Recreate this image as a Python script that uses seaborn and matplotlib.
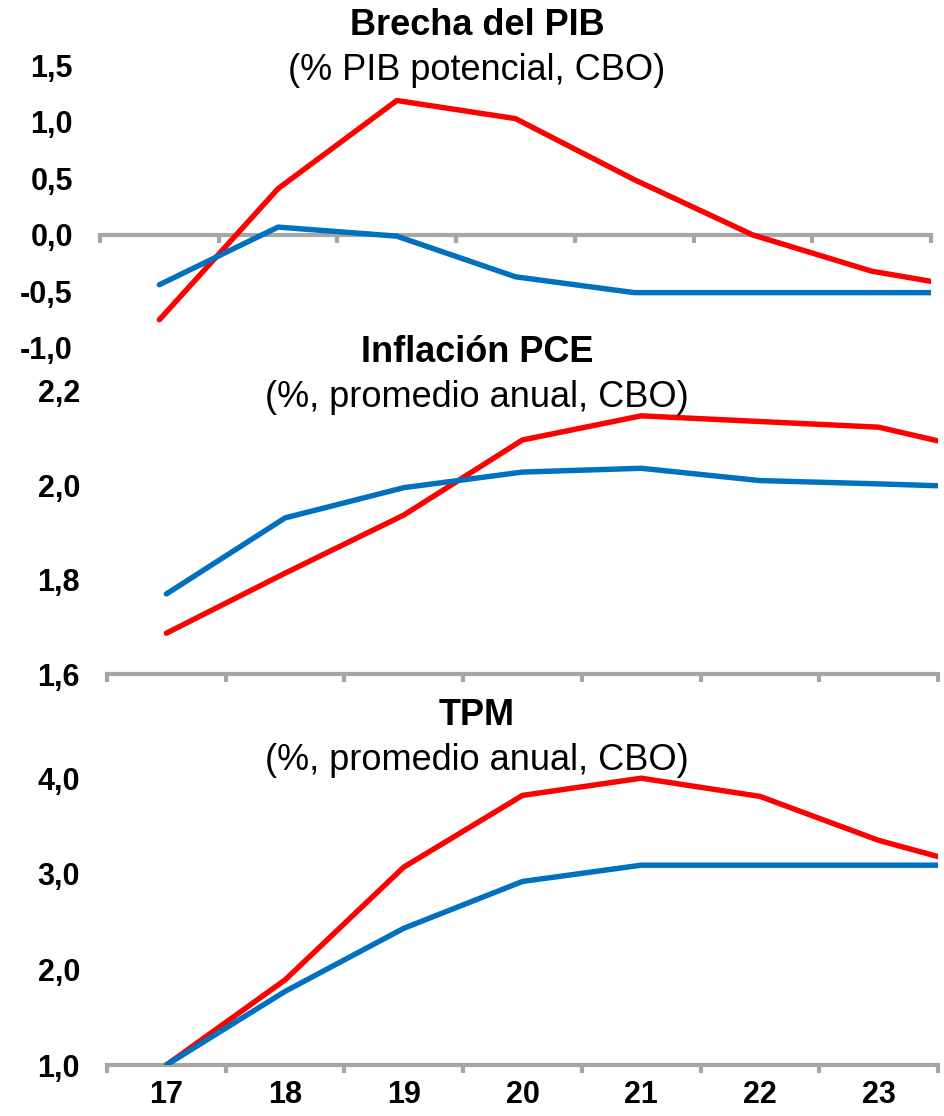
import matplotlib
matplotlib.use("Agg")
import matplotlib.pyplot as plt
import matplotlib.ticker as mticker
import numpy as np
import pandas as pd
import seaborn as sns

# ---------------- data ----------------
years = [17, 18, 19, 20, 21, 22, 23, 24]
year_labels = ["17", "18", "19", "20", "21", "22", "23"]
series_names = ["Escenario rojo", "Escenario azul"]

brecha_red = [-0.75, 0.41, 1.19, 1.03, 0.49, 0.00, -0.32, -0.50]
brecha_blue = [-0.44, 0.07, -0.01, -0.37, -0.51, -0.51, -0.51, -0.51]

pce_red = [1.687, 1.814, 1.937, 2.096, 2.147, 2.135, 2.123, 2.065]
pce_blue = [1.770, 1.931, 1.995, 2.028, 2.036, 2.010, 2.003, 1.995]

tpm_red = [1.00, 1.89, 3.07, 3.82, 4.00, 3.81, 3.35, 3.01]
tpm_blue = [1.00, 1.77, 2.43, 2.92, 3.09, 3.09, 3.09, 3.09]

titles = ["Brecha del PIB", "Inflación PCE", "TPM"]
subtitles = ["(% PIB potencial, CBO)", "(%, promedio anual, CBO)", "(%, promedio anual, CBO)"]

brecha_ticks = [-1.0, -0.5, 0.0, 0.5, 1.0, 1.5]
pce_ticks = [1.6, 1.8, 2.0, 2.2]
tpm_ticks = [1.0, 2.0, 3.0, 4.0]

# ---------------- style ----------------
sns.set_style("white")
plt.rcParams["font.family"] = ["Liberation Sans", "DejaVu Sans"]
plt.rcParams["text.color"] = "black"
plt.rcParams["xtick.color"] = "black"
plt.rcParams["ytick.color"] = "black"
plt.rcParams["axes.labelcolor"] = "black"

RED = "#FF0000"
BLUE = "#0070C0"
GRAY = "#A6A6A6"
W, H = 945, 1116

fig = plt.figure(figsize=(W / 100, H / 100), dpi=100)


def px_axes(left, right, top, bottom):
    return fig.add_axes([left / W, 1 - bottom / H, (right - left) / W, (bottom - top) / H])


def long_df(red, blue):
    return pd.DataFrame({
        "year": years * 2,
        "value": list(red) + list(blue),
        "serie": [series_names[0]] * len(years) + [series_names[1]] * len(years),
    })


fmt = mticker.FuncFormatter(lambda v, p: f"{v:.1f}".replace(".", ","))

panels = [
    dict(red=brecha_red, blue=brecha_blue, ylim=(-1.0, 1.5), ticks=brecha_ticks,
         box=(100, 931, 65.5, 348), spine=0.0, xlabels=False),
    dict(red=pce_red, blue=pce_blue, ylim=(1.6, 2.2), ticks=pce_ticks,
         box=(107, 938, 390.8, 674.3), spine=None, xlabels=False),
    dict(red=tpm_red, blue=tpm_blue, ylim=(1.0, 4.5), ticks=tpm_ticks,
         box=(107, 938, 730.4, 1065), spine=None, xlabels=True),
]

for p in panels:
    ax = px_axes(*p["box"])
    df = long_df(p["red"], p["blue"])
    sns.lineplot(data=df, x="year", y="value", hue="serie",
                 palette={series_names[0]: RED, series_names[1]: BLUE},
                 hue_order=series_names, linewidth=3.9, legend=False, ax=ax,
                 solid_capstyle="round", solid_joinstyle="round", zorder=3)
    ax.set_xlim(16.5, 23.5)
    ax.set_ylim(*p["ylim"])
    ax.set_xlabel("")
    ax.set_ylabel("")
    for s in ["top", "right", "left"]:
        ax.spines[s].set_visible(False)
    ax.spines["bottom"].set_color(GRAY)
    ax.spines["bottom"].set_linewidth(3.0)
    ax.spines["bottom"].set_zorder(2)
    if p["spine"] is not None:
        ax.spines["bottom"].set_position(("data", p["spine"]))
    ax.set_yticks(p["ticks"])
    ax.yaxis.set_major_formatter(fmt)
    ax.tick_params(axis="y", length=0, pad=19.5, labelsize=22, labelcolor="black")
    for lab in ax.get_yticklabels():
        lab.set_fontweight("bold")
    ax.set_xticks(np.arange(16.5, 24.0, 1.0))
    ax.set_xticklabels([])
    ax.tick_params(axis="x", which="major", direction="out", length=5.5,
                   width=3.0, color=GRAY, bottom=True)
    if p["xlabels"]:
        ax.set_xticks(years[:-1], minor=True)
        ax.set_xticklabels(year_labels, minor=True, fontsize=22, fontweight="bold")
        ax.tick_params(axis="x", which="minor", length=0, pad=11, labelcolor="black")
    ax.grid(False)
    ax.patch.set_alpha(0)

# titles
title_base = [35, 362, 725]
sub_base = [80, 407, 770]
for t, s, tb, sb in zip(titles, subtitles, title_base, sub_base):
    fig.text(477 / W, 1 - tb / H, t, ha="center", va="baseline",
             fontsize=26, fontweight="bold", color="black")
    fig.text(477 / W, 1 - sb / H, s, ha="center", va="baseline", fontsize=26,
             color="black")

fig.savefig("out.png", dpi=100)
